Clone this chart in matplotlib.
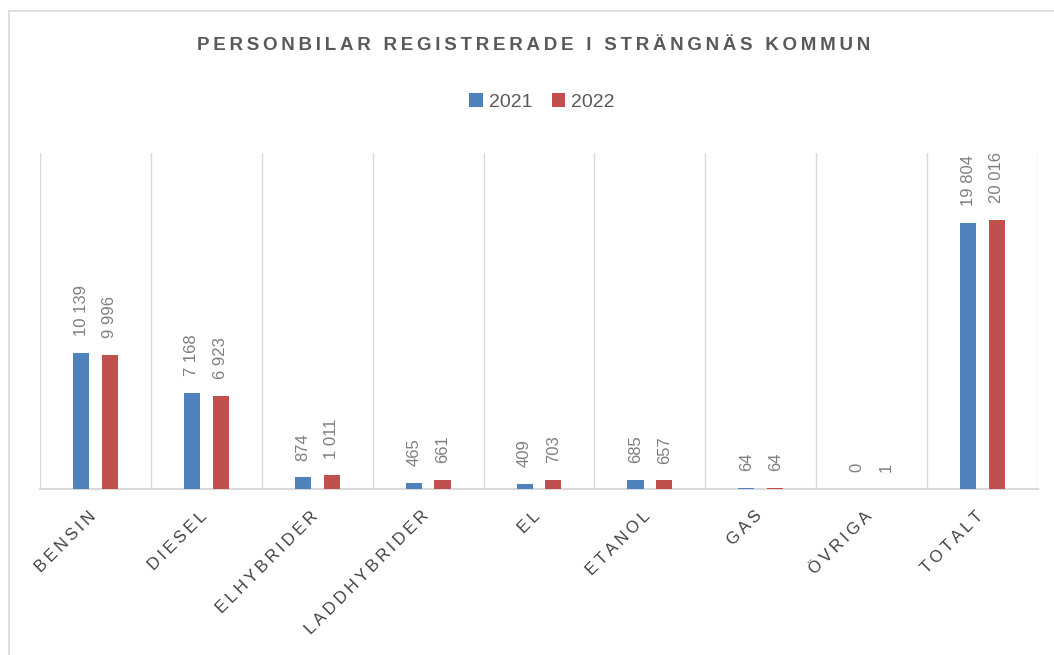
import matplotlib
matplotlib.use("Agg")
import matplotlib.pyplot as plt
import matplotlib.transforms as mtransforms
from matplotlib.lines import Line2D
import numpy as np

categories = ["BENSIN", "DIESEL", "ELHYBRIDER", "LADDHYBRIDER", "EL", "ETANOL", "GAS", "ÖVRIGA", "TOTALT"]
v2021 = [10139, 7168, 874, 465, 409, 685, 64, 0, 19804]
v2022 = [9996, 6923, 1011, 661, 703, 657, 64, 1, 20016]
series_names = ["2021", "2022"]
colors = ["#4F81BD", "#C0504D"]

plt.rcParams['font.family'] = ['Liberation Sans', 'DejaVu Sans']

W, H = 1054, 655
fig = plt.figure(figsize=(W / 100, H / 100), dpi=100)
# outer chart border (top and left edges visible)
fig.lines.append(Line2D([9 / W, 1.0], [1 - 11 / H, 1 - 11 / H], transform=fig.transFigure,
                        color="#D9D9D9", linewidth=1.2))
fig.lines.append(Line2D([9 / W, 9 / W], [0.0, 1 - 11 / H], transform=fig.transFigure,
                        color="#D9D9D9", linewidth=1.2))

ax = fig.add_axes([40 / W, 1 - 489 / H, 998 / W, 336 / H])
x = np.arange(len(categories))
bw = 0.145
off = 0.13
bars1 = ax.bar(x - off, v2021, bw, color=colors[0], label=series_names[0], zorder=3)
bars2 = ax.bar(x + off, v2022, bw, color=colors[1], label=series_names[1], zorder=3)

ax.set_xlim(-0.5, len(categories) - 0.5)
ax.set_ylim(0, 25000)
for b in np.arange(-0.5, len(categories), 1.0):
    ax.axvline(b, color="#D9D9D9", linewidth=1.0, zorder=1)
for s in ["top", "right", "left"]:
    ax.spines[s].set_visible(False)
ax.spines["bottom"].set_color("#D9D9D9")
ax.spines["bottom"].set_linewidth(1.5)
ax.set_yticks([])
ax.tick_params(axis="x", length=0, pad=6)

def fmt(v):
    return f"{v:,}".replace(",", " ")

def spaced(s):
    return "\u2009".join(list(s))

for bars, vals in ((bars1, v2021), (bars2, v2022)):
    for bar, v in zip(bars, vals):
        ax.annotate(fmt(v), (bar.get_x() + bar.get_width() / 2, bar.get_height()),
                    xytext=(0, 12), textcoords="offset points", rotation=90,
                    ha="center", va="bottom", fontsize=12, color="#7F7F7F")

ax.set_xticks(x)
ax.set_xticklabels([spaced(c) for c in categories], rotation=45, ha="right",
                   rotation_mode="anchor", fontsize=12, color="#404040")
shift = mtransforms.ScaledTranslation(-7 / 100, -11 / 100, fig.dpi_scale_trans)
for lab in ax.get_xticklabels():
    lab.set_transform(lab.get_transform() + shift)

fig.text(534 / W, 1 - 45 / H, "\u2009".join(list("PERSONBILAR REGISTRERADE I STRÄNGNÄS KOMMUN")),
         ha="center", va="center", fontsize=13.5, fontweight="bold", color="#595959")

leg = fig.legend(handles=[bars1, bars2], labels=series_names, loc="center",
                 bbox_to_anchor=(542 / W, 1 - 102 / H), ncol=2, frameon=False,
                 fontsize=14, handlelength=0.7, handleheight=0.7, handletextpad=0.3,
                 columnspacing=1.0, labelcolor="#595959")

fig.savefig("out.png", dpi=100)
